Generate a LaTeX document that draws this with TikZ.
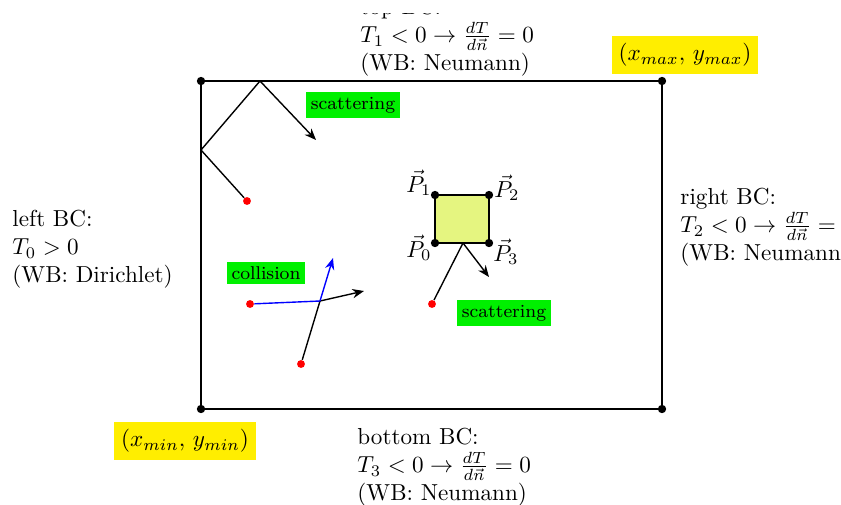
\documentclass[tikz,border=0pt]{standalone}
\usetikzlibrary{arrows.meta}
\definecolor{sqfill}{RGB}{229,245,128}
\definecolor{lblyellow}{RGB}{255,238,0}
\definecolor{lblgreen}{RGB}{0,240,0}
\begin{document}
\begin{tikzpicture}[x=0.432pt,y=-0.432pt,
 wall/.style={line width=1pt},
 ray/.style={line width=0.6pt},
 arr/.style={ray,-{Stealth[length=5pt,width=4pt]}},
 corner/.style={circle,fill=black,inner sep=0pt,minimum size=3.6pt},
 particle/.style={circle,fill=red,inner sep=0pt,minimum size=3.4pt},
 ylabel/.style={fill=lblyellow,inner sep=3pt},
 glabel/.style={fill=lblgreen,inner sep=2pt,font=\footnotesize},
 bc/.style={align=left,anchor=north west,inner sep=0pt}]
\useasboundingbox (0,0) rectangle (841,504);
\clip (0,13) rectangle (841,504);
% domain
\coordinate (A) at (201,409);
\coordinate (B) at (662,409);
\coordinate (C) at (662,81);
\coordinate (D) at (201,81);
\draw[wall] (A) -- (B) -- (C) -- (D) -- cycle;
\node[corner] (cA) at (A) {};
\node[corner] (cB) at (B) {};
\node[corner] (cC) at (C) {};
\node[corner] (cD) at (D) {};
\node[ylabel] (ymax) at (685,55) {$(x_{max},\, y_{max})$};
\node[ylabel] (ymin) at (185,441) {$(x_{min},\, y_{min})$};
% BC texts
\node[bc] (top) at (360,-2) {top BC:\\ $T_1<0\rightarrow\frac{dT}{d\vec{n}}=0$\\ (WB: Neumann)};
\node[bc] (bottom) at (357,428) {bottom BC:\\ $T_3<0\rightarrow\frac{dT}{d\vec{n}}=0$\\ (WB: Neumann)};
\node[bc] (left) at (12,210) {left BC:\\ $T_0>0$\\ (WB: Dirichlet)};
\node[bc] (right) at (680,188) {right BC:\\ $T_2<0\rightarrow\frac{dT}{d\vec{n}}=0$\\ (WB: Neumann)};
% obstacle
\coordinate (P0) at (435,243);
\coordinate (P1) at (435,195);
\coordinate (P2) at (489,195);
\coordinate (P3) at (489,243);
\draw[wall,fill=sqfill] (P0) -- (P1) -- (P2) -- (P3) -- cycle;
\node[corner] (cP0) at (P0) {};
\node[corner] (cP1) at (P1) {};
\node[corner] (cP2) at (P2) {};
\node[corner] (cP3) at (P3) {};
\node (lP0) at (419,248) {$\vec{P}_0$};
\node (lP1) at (419,183) {$\vec{P}_1$};
\node (lP2) at (507,188) {$\vec{P}_2$};
\node (lP3) at (506,252) {$\vec{P}_3$};
% wall scattering
\node[particle] (s1) at (247,201) {};
\coordinate (w1) at (201,150);
\coordinate (w2) at (260,81);
\coordinate (e1) at (316,140);
\draw[ray] (s1) -- (w1) -- (w2);
\draw[arr] (w2) -- (e1);
\node[glabel] (g1) at (353,105) {scattering};
% obstacle scattering
\node[particle] (s2) at (432,304) {};
\coordinate (w3) at (463,243);
\coordinate (e2) at (489,277);
\draw[ray] (s2) -- (w3);
\draw[arr] (w3) -- (e2);
\node[glabel] (g2) at (504,313) {scattering};
% collision
\node[particle] (c1) at (250,304) {};
\node[particle] (c2) at (301,364) {};
\coordinate (X) at (320,301);
\coordinate (e3) at (364,291);
\coordinate (e4) at (333,258);
\draw[ray] (c2) -- (X);
\draw[arr] (X) -- (e3);
\draw[ray,blue] (c1) -- (X);
\draw[arr,blue] (X) -- (e4);
\node[glabel] (g3) at (266,273) {collision};
\end{tikzpicture}
\end{document}
